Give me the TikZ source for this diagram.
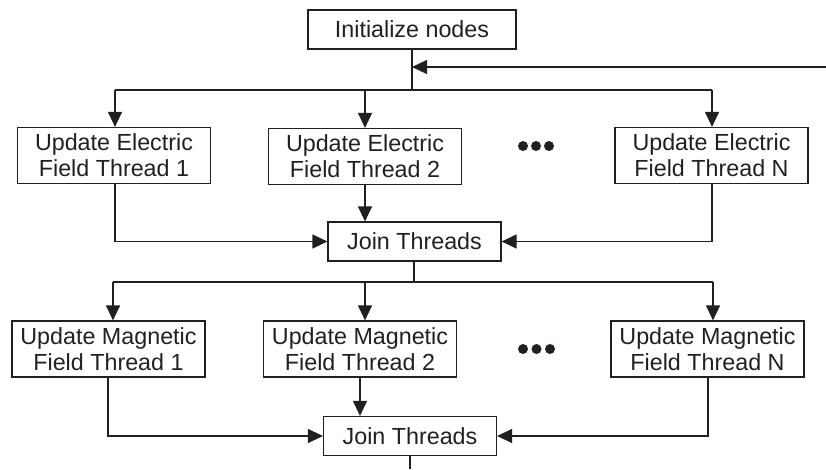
\documentclass[tikz,border=0pt]{standalone}
\usepackage{fontspec}
\setmainfont{Liberation Sans}
\usetikzlibrary{arrows.meta}
\definecolor{ink}{HTML}{231F20}
\begin{document}
\begin{tikzpicture}[x=1pt,y=-1pt,color=ink,line width=1.2pt,
  arr/.style={-{Triangle[length=15pt,width=14pt]}},
  boxnode/.style={draw=ink,line width=1.2pt,inner sep=0pt,align=center,text=ink,
     font=\fontsize{23.3}{26}\selectfont},
  thread/.style={boxnode,minimum width=193pt,minimum height=56pt},
  joinbox/.style={boxnode,minimum width=173pt,minimum height=39pt}]
\useasboundingbox (0,0) rectangle (826,469);

\node[boxnode,minimum width=208pt,minimum height=39pt] (init) at (412,29.5) {Initialize nodes};

\node[thread] (e1) at (114,155.5) {Update Electric\\Field Thread 1};
\node[thread] (e2) at (365,156.5) {Update Electric\\Field Thread 2};
\node[thread] (eN) at (711.5,155.5) {Update Electric\\Field Thread N};
\node[joinbox] (j1) at (414.5,241.5) {Join Threads};

\node[thread] (m1) at (108.5,349) {Update Magnetic\\Field Thread 1};
\node[thread] (m2) at (360,349) {Update Magnetic\\Field Thread 2};
\node[thread] (mN) at (707.5,349) {Update Magnetic\\Field Thread N};
\node[joinbox] (j2) at (410,436) {Join Threads};

% dots
\foreach \x in {523,536,549} \fill[ink] (\x,146) circle (5pt);
\foreach \x in {523,536.5,550} \fill[ink] (\x,349) circle (5pt);

% top feedback and bus
\coordinate (fb) at (826,67);
\coordinate (b1) at (412,90);
\coordinate (b1L) at (115,90);
\coordinate (b1R) at (712,90);
\draw (init.south) -- (b1);
\draw[arr] (fb) -- (init.south |- fb);
\draw (b1L) -- (b1R);
\draw[arr] (b1L) -- (b1L |- e1.north);
\draw[arr] (e2.north |- b1) -- (e2.north);
\draw[arr] (b1R) -- (b1R |- eN.north);

% electric to join
\coordinate (e1o) at (115,183.5);
\coordinate (eNo) at (712,183.5);
\draw[arr] (e1o) |- (j1.west);
\draw[arr] (e2.south) -- (e2.south |- j1.north);
\draw[arr] (eNo) |- (j1.east);

% second bus
\coordinate (b2) at (414,282);
\coordinate (b2L) at (113,282);
\coordinate (b2M) at (365,282);
\coordinate (b2R) at (713,282);
\draw (j1.south -| b2) -- (b2);
\draw (b2L) -- (b2R);
\draw[arr] (b2L) -- (b2L |- m1.north);
\draw[arr] (b2M) -- (b2M |- m2.north);
\draw[arr] (b2R) -- (b2R |- mN.north);

% magnetic to join
\coordinate (m1o) at (108,377);
\coordinate (mNo) at (708,377);
\draw[arr] (m1o) |- (j2.west);
\draw[arr] (m2.south) -- (m2.south |- j2.north);
\draw[arr] (mNo) |- (j2.east);
\coordinate (out) at (410,469);
\draw (j2.south) -- (out);
\end{tikzpicture}
\end{document}
